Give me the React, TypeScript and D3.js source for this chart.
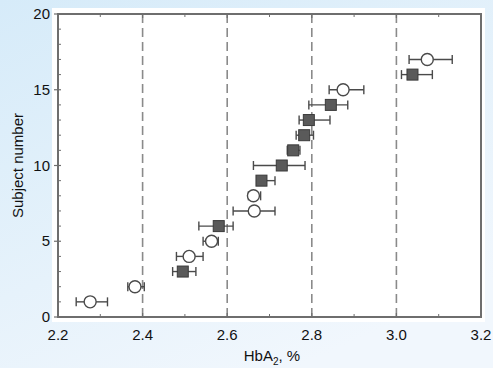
import React from "react";
import * as d3 from "d3";

const subjects = [1, 2, 3, 4, 5, 6, 7, 8, 9, 10, 11, 12, 13, 14, 15, 16, 17];
const means = [2.276, 2.382, 2.495, 2.51, 2.563, 2.58, 2.664, 2.662, 2.681, 2.729, 2.756, 2.782, 2.793, 2.845, 2.874, 3.038, 3.073];
const lows = [2.243, 2.365, 2.471, 2.48, 2.543, 2.533, 2.614, 2.65, 2.67, 2.662, 2.742, 2.763, 2.77, 2.793, 2.841, 3.012, 3.03];
const highs = [2.317, 2.404, 2.526, 2.543, 2.579, 2.614, 2.713, 2.679, 2.713, 2.784, 2.772, 2.804, 2.843, 2.885, 2.923, 3.085, 3.132];
const markerTypes = ["circle", "circle", "square", "circle", "circle", "square", "circle", "circle", "square", "square", "square", "square", "square", "square", "circle", "square", "circle"];
const xTicks = [2.2, 2.4, 2.6, 2.8, 3.0, 3.2];
const yTicks = [0, 5, 10, 15, 20];
const refLines = [2.4, 2.6, 2.8, 3.0];

const W = 493, H = 368;
const L = 58, R = 481, T = 14, B = 317;

export default function App() {
  const x = d3.scaleLinear().domain([2.2, 3.2]).range([L, R]);
  const y = d3.scaleLinear().domain([0, 20]).range([B, T]);
  const font = "'Liberation Sans', Arial, sans-serif";
  const axisColor = "#6e6e6e";
  const markColor = "#4a4a4a";
  const minorX = d3.range(2.3, 3.2, 0.2);
  const minorY = d3.range(1, 20, 1).filter((v) => v % 5 !== 0);
  const fs = 15;

  return (
    <svg width={W} height={H} style={{ position: "absolute", left: 0, top: 0 }} fontFamily={font}>
      <defs>
        <linearGradient id="bg" x1="0" y1="0" x2="0.6" y2="1">
          <stop offset="0" stopColor="#d6ebf9" />
          <stop offset="0.6" stopColor="#e6f2fb" />
          <stop offset="1" stopColor="#f1f7fd" />
        </linearGradient>
      </defs>
      <rect x={0} y={0} width={W} height={H} fill="url(#bg)" />
      <rect x={52} y={8} width={433} height={314} fill="#ffffff" />

      {refLines.map((v) => (
        <line key={v} x1={x(v)} x2={x(v)} y1={T} y2={B} stroke="#8a8a8a" strokeWidth={1.6} strokeDasharray="9,5" />
      ))}

      {/* frame */}
      <rect x={L} y={T} width={R - L} height={B - T} fill="none" stroke={axisColor} strokeWidth={2} />

      {/* x ticks */}
      {xTicks.map((v) => (
        <g key={"xt" + v}>
          <line x1={x(v)} x2={x(v)} y1={B} y2={B - 4} stroke={axisColor} strokeWidth={1.2} />
          <line x1={x(v)} x2={x(v)} y1={T} y2={T + 4} stroke={axisColor} strokeWidth={1.2} />
          <text x={x(v)} y={B + 23} textAnchor="middle" fontSize={fs} fill="#111">{v.toFixed(1)}</text>
        </g>
      ))}
      {minorX.map((v) => (
        <g key={"xm" + v}>
          <line x1={x(v)} x2={x(v)} y1={B} y2={B - 3} stroke={axisColor} strokeWidth={1} />
          <line x1={x(v)} x2={x(v)} y1={T} y2={T + 3} stroke={axisColor} strokeWidth={1} />
        </g>
      ))}

      {/* y ticks */}
      {yTicks.map((v) => (
        <g key={"yt" + v}>
          <line x1={L - 4} x2={L + 3} y1={y(v)} y2={y(v)} stroke={axisColor} strokeWidth={1.2} />
          <text x={L - 8} y={y(v) + 5} textAnchor="end" fontSize={fs} fill="#111">{v}</text>
        </g>
      ))}
      {minorY.map((v) => (
        <line key={"ym" + v} x1={L} x2={L + 3} y1={y(v)} y2={y(v)} stroke={axisColor} strokeWidth={1} />
      ))}

      {/* error bars + markers */}
      {subjects.map((s, i) => {
        const cy = y(s);
        return (
          <g key={"p" + s}>
            <line x1={x(lows[i])} x2={x(highs[i])} y1={cy} y2={cy} stroke={markColor} strokeWidth={1.4} />
            <line x1={x(lows[i])} x2={x(lows[i])} y1={cy - 4.5} y2={cy + 4.5} stroke={markColor} strokeWidth={1.4} />
            <line x1={x(highs[i])} x2={x(highs[i])} y1={cy - 4.5} y2={cy + 4.5} stroke={markColor} strokeWidth={1.4} />
            {markerTypes[i] === "circle" ? (
              <circle cx={x(means[i])} cy={cy} r={6} fill="#ffffff" stroke={markColor} strokeWidth={1.4} />
            ) : (
              <rect x={x(means[i]) - 5.5} y={cy - 5.5} width={11} height={11} fill="#5a5a5a" stroke="#3a3a3a" strokeWidth={1} />
            )}
          </g>
        );
      })}

      {/* axis titles */}
      <text x={272} y={361} textAnchor="middle" fontSize={fs} fill="#111">
        HbA<tspan fontSize={10} dy={4}>2</tspan><tspan dy={-4}>, %</tspan>
      </text>
      <text transform={`translate(23,${(T + B) / 2}) rotate(-90)`} textAnchor="middle" fontSize={fs} fill="#111">
        Subject number
      </text>
    </svg>
  );
}
